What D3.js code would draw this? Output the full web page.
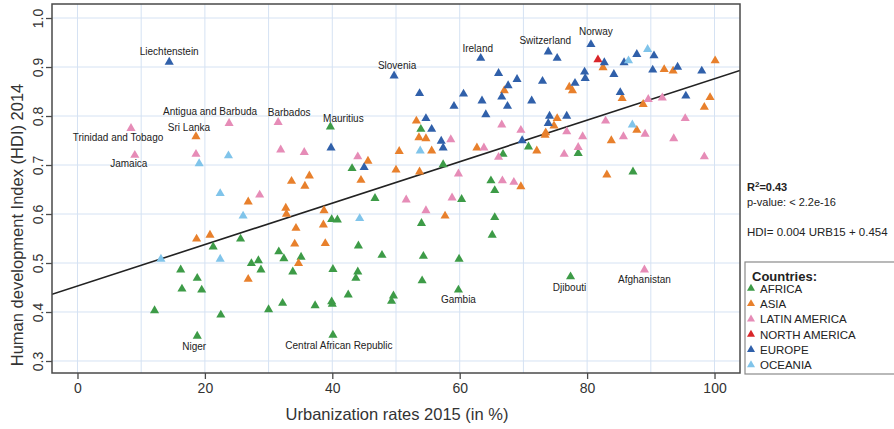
<!DOCTYPE html>
<html>
<head>
<meta charset="utf-8">
<script src="https://d3js.org/d3.v7.min.js"></script>
<style>
  body { margin: 0; background: #fff; }
  svg text { font-family: "Liberation Sans", Arial, Helvetica, sans-serif; }
</style>
</head>
<body>
<div id="chart"></div>
<script>
  // values: [urbanization 2015 (%), HDI 2014]
  var africa = [
    [39.7,0.778],[43.1,0.693],[57.4,0.701],[70.8,0.737],[66.8,0.722],[78.6,0.724],
    [87.2,0.686],[64.9,0.668],[65.5,0.648],[53.9,0.773],[46.7,0.632],[60.3,0.630],
    [39.9,0.589],[40.8,0.588],[54.0,0.581],[25.6,0.549],[31.6,0.523],[32.4,0.509],
    [35.1,0.512],[27.3,0.499],[28.4,0.505],[28.8,0.486],[33.8,0.482],[40.1,0.487],
    [44.1,0.535],[47.8,0.516],[54.3,0.514],[59.9,0.508],[44.0,0.482],[43.7,0.469],
    [54.1,0.464],[59.8,0.445],[42.5,0.435],[49.6,0.433],[49.3,0.422],[32.2,0.418],
    [30.0,0.405],[37.3,0.413],[39.9,0.421],[40.0,0.416],[40.1,0.353],[21.3,0.533],
    [16.2,0.486],[18.8,0.469],[16.4,0.447],[19.5,0.445],[12.1,0.403],[22.5,0.394],
    [18.8,0.351],[65.5,0.593],[65.1,0.557],[77.4,0.472]
  ];
  var asia = [
    [18.6,0.758],[53.2,0.790],[53.6,0.756],[54.7,0.754],[55.6,0.729],[50.5,0.728],
    [45.6,0.708],[50.0,0.690],[53.7,0.686],[62.7,0.735],[44.5,0.669],[33.6,0.667],
    [36.4,0.678],[35.7,0.657],[82.5,0.899],[92.1,0.895],[93.5,0.892],[100.1,0.913],
    [77.2,0.859],[77.7,0.852],[67.0,0.852],[85.5,0.836],[88.8,0.824],[99.3,0.838],
    [98.4,0.818],[75.3,0.795],[74.8,0.780],[73.5,0.766],[73.4,0.761],[87.8,0.771],
    [83.8,0.750],[72.1,0.729],[83.1,0.680],[69.6,0.656],[26.8,0.625],[32.7,0.612],
    [32.8,0.600],[38.7,0.607],[34.3,0.571],[38.6,0.578],[34.1,0.539],[38.9,0.540],
    [34.7,0.499],[26.8,0.467],[57.7,0.596],[18.7,0.549],[20.8,0.557]
  ];
  var latinAmerica = [
    [8.4,0.775],[23.8,0.785],[9.0,0.720],[18.6,0.722],[31.5,0.787],[31.9,0.731],
    [35.6,0.726],[44.0,0.717],[58.6,0.752],[59.8,0.682],[28.6,0.639],[89.6,0.834],
    [91.8,0.837],[95.4,0.795],[82.9,0.790],[89.1,0.763],[85.7,0.758],[93.6,0.754],
    [98.4,0.717],[66.6,0.782],[69.6,0.771],[76.8,0.768],[79.3,0.758],[63.8,0.735],
    [66.1,0.716],[76.4,0.722],[78.6,0.736],[66.7,0.668],[68.5,0.665],[51.6,0.629],
    [58.8,0.633],[54.7,0.607],[89.0,0.486]
  ];
  var northAmerica = [[81.7,0.915]];
  var europe = [
    [14.4,0.910],[49.7,0.882],[53.7,0.846],[60.6,0.845],[59.1,0.820],[54.7,0.795],
    [55.6,0.773],[57.1,0.749],[57.4,0.735],[39.8,0.735],[45.0,0.695],[63.3,0.918],
    [73.9,0.931],[75.3,0.918],[80.6,0.946],[82.7,0.909],[87.8,0.926],[90.5,0.923],
    [85.8,0.909],[90.3,0.894],[94.2,0.900],[98.0,0.892],[84.2,0.885],[79.6,0.890],
    [79.7,0.877],[78.1,0.867],[73.0,0.871],[66.1,0.887],[69.0,0.875],[67.6,0.862],
    [63.5,0.831],[66.6,0.839],[67.5,0.820],[64.1,0.803],[71.3,0.831],[85.2,0.848],
    [95.5,0.841],[74.1,0.800],[76.8,0.800],[73.9,0.785],[69.8,0.750]
  ];
  var oceania = [
    [19.1,0.703],[23.7,0.719],[22.4,0.642],[53.8,0.729],[89.5,0.936],[86.5,0.913],
    [87.1,0.782],[26.0,0.596],[44.3,0.591],[13.1,0.508],[22.4,0.508]
  ];

  var regionNames = ["AFRICA", "ASIA", "LATIN AMERICA", "NORTH AMERICA", "EUROPE", "OCEANIA"];
  var regionColors = ["#3d9b47", "#e8802c", "#e68cb7", "#d9262a", "#3060aa", "#80c4ea"];

  var labelled = [
    ["Liechtenstein", 14.4, 0.910], ["Trinidad and Tobago", 8.4, 0.775],
    ["Sri Lanka", 18.6, 0.758], ["Antigua and Barbuda", 23.8, 0.785],
    ["Jamaica", 9.0, 0.720], ["Barbados", 31.5, 0.787], ["Mauritius", 39.7, 0.778],
    ["Slovenia", 49.7, 0.882], ["Ireland", 63.3, 0.918], ["Switzerland", 73.9, 0.931],
    ["Norway", 80.6, 0.946], ["Gambia", 59.8, 0.445],
    ["Central African Republic", 40.1, 0.353], ["Niger", 18.8, 0.351],
    ["Djibouti", 77.4, 0.472], ["Afghanistan", 89.0, 0.486]
  ];

  var xTicks = [0, 20, 40, 60, 80, 100];
  var yTicks = [0.3, 0.4, 0.5, 0.6, 0.7, 0.8, 0.9, 1.0];
  var fitSlope = 0.00423, fitIntercept = 0.453;

  var width = 894, height = 429;
  var svg = d3.select("#chart").append("svg")
    .attr("width", width).attr("height", height);

  var x = d3.scaleLinear().domain([-4, 104]).range([52, 740]);
  var y = d3.scaleLinear().domain([0.2755, 1.0286]).range([373, 4]);

  // grid
  var grid = svg.append("g");
  grid.selectAll("line.v").data(d3.range(0, 101, 10)).enter().append("line")
    .attr("x1", d => x(d)).attr("x2", d => x(d))
    .attr("y1", y.range()[1]).attr("y2", y.range()[0])
    .attr("stroke", "#d5e2f3").attr("stroke-width", 1);
  grid.selectAll("line.h").data(yTicks).enter().append("line")
    .attr("x1", x.range()[0]).attr("x2", x.range()[1])
    .attr("y1", d => y(d)).attr("y2", d => y(d))
    .attr("stroke", "#d5e2f3").attr("stroke-width", 1);

  // regression line, clipped to the plot box
  svg.append("clipPath").attr("id", "clip").append("rect")
    .attr("x", 52).attr("y", 4).attr("width", 688).attr("height", 369);
  var xs = x.domain();
  svg.append("line").attr("clip-path", "url(#clip)")
    .attr("x1", x(xs[0])).attr("y1", y(fitIntercept + fitSlope * xs[0]))
    .attr("x2", x(xs[1])).attr("y2", y(fitIntercept + fitSlope * xs[1]))
    .attr("stroke", "#222").attr("stroke-width", 1.6);

  // points
  var tri = d3.symbol().type(d3.symbolTriangle).size(36);
  var groups = [africa, asia, latinAmerica, northAmerica, europe, oceania];
  groups.forEach(function(pts, i) {
    svg.append("g").selectAll("path").data(pts).enter().append("path")
      .attr("d", tri)
      .attr("transform", d => "translate(" + x(d[0]) + "," + y(d[1]) + ")")
      .attr("fill", regionColors[i]);
  });

  // country labels: offset of text from its point
  var offsets = {
    "Liechtenstein": [0, -7], "Trinidad and Tobago": [-13, 13], "Sri Lanka": [-7, -6],
    "Antigua and Barbuda": [-19, -8], "Jamaica": [-6, 11.5], "Barbados": [11, -6],
    "Mauritius": [13, -5], "Slovenia": [3, -7], "Ireland": [-3, -6],
    "Switzerland": [-3, -7.5], "Norway": [5, -9], "Gambia": [0, 13.5],
    "Central African Republic": [6, 14], "Niger": [-3, 14], "Djibouti": [-1, 14],
    "Afghanistan": [0, 13]
  };
  svg.append("g").selectAll("text").data(labelled).enter().append("text")
    .attr("x", d => x(d[1]) + offsets[d[0]][0])
    .attr("y", d => y(d[2]) + offsets[d[0]][1])
    .attr("text-anchor", "middle")
    .attr("font-size", 10)
    .attr("fill", "#222")
    .text(d => d[0]);

  // box
  svg.append("rect").attr("x", 52).attr("y", 4).attr("width", 688).attr("height", 369)
    .attr("fill", "none").attr("stroke", "#4a4a4a").attr("stroke-width", 1.5);

  // x axis
  var xAxis = d3.axisBottom(x).tickValues(xTicks).tickSize(6).tickPadding(4);
  var gx = svg.append("g").attr("transform", "translate(0,373)").call(xAxis);
  gx.select(".domain").remove();
  gx.selectAll("line").attr("stroke", "#4a4a4a").attr("stroke-width", 1.3);
  gx.selectAll("text").attr("font-size", 14).attr("fill", "#333")
    .attr("font-family", "Liberation Sans, Arial, sans-serif");

  // y axis with vertical labels
  var yAxis = d3.axisLeft(y).tickValues(yTicks).tickSize(6).tickFormat(d3.format(".1f"));
  var gy = svg.append("g").attr("transform", "translate(52,0)").call(yAxis);
  gy.select(".domain").remove();
  gy.selectAll("line").attr("stroke", "#4a4a4a").attr("stroke-width", 1.3);
  gy.selectAll("text")
    .attr("x", null).attr("dy", null)
    .attr("transform", "translate(-9,0) rotate(-90)")
    .attr("text-anchor", "middle")
    .attr("font-size", 14).attr("fill", "#333")
    .attr("font-family", "Liberation Sans, Arial, sans-serif");

  // axis titles
  svg.append("text").attr("x", 397).attr("y", 420).attr("text-anchor", "middle")
    .attr("font-size", 16.5).attr("fill", "#333").text("Urbanization rates 2015 (in %)");
  svg.append("text").attr("transform", "translate(23,225) rotate(-90)")
    .attr("text-anchor", "middle").attr("font-size", 16.5).attr("fill", "#333")
    .text("Human development Index (HDI) 2014");

  // fit statistics
  var stats = svg.append("g").attr("font-size", 11).attr("fill", "#222");
  var r2 = stats.append("text").attr("x", 747).attr("y", 191).attr("font-weight", "bold");
  r2.append("tspan").text("R");
  r2.append("tspan").attr("dy", -4).attr("font-size", 8).text("2");
  r2.append("tspan").attr("dy", 4).text("=0.43");
  stats.append("text").attr("x", 747).attr("y", 206).text("p-value: < 2.2e-16");
  stats.append("text").attr("x", 747).attr("y", 236).attr("font-size", 11.5)
    .text("HDI= 0.004 URB15 + 0.454");

  // legend
  var leg = svg.append("g");
  leg.append("rect").attr("x", 745).attr("y", 262).attr("width", 170).attr("height", 112)
    .attr("fill", "#fff").attr("stroke", "#8a8a8a").attr("stroke-width", 1.2);
  leg.append("text").attr("x", 752).attr("y", 281).attr("font-size", 13)
    .attr("font-weight", "bold").attr("fill", "#222").text("Countries:");
  var items = leg.selectAll("g.item").data(regionNames).enter().append("g")
    .attr("transform", (d, i) => "translate(751," + (288.5 + i * 15.3) + ")");
  items.append("path").attr("d", d3.symbol().type(d3.symbolTriangle).size(28))
    .attr("fill", (d, i) => regionColors[i]);
  items.append("text").attr("x", 9).attr("y", 4.2).attr("font-size", 11.5)
    .attr("fill", "#222").text(d => d);
</script>
</body>
</html>
